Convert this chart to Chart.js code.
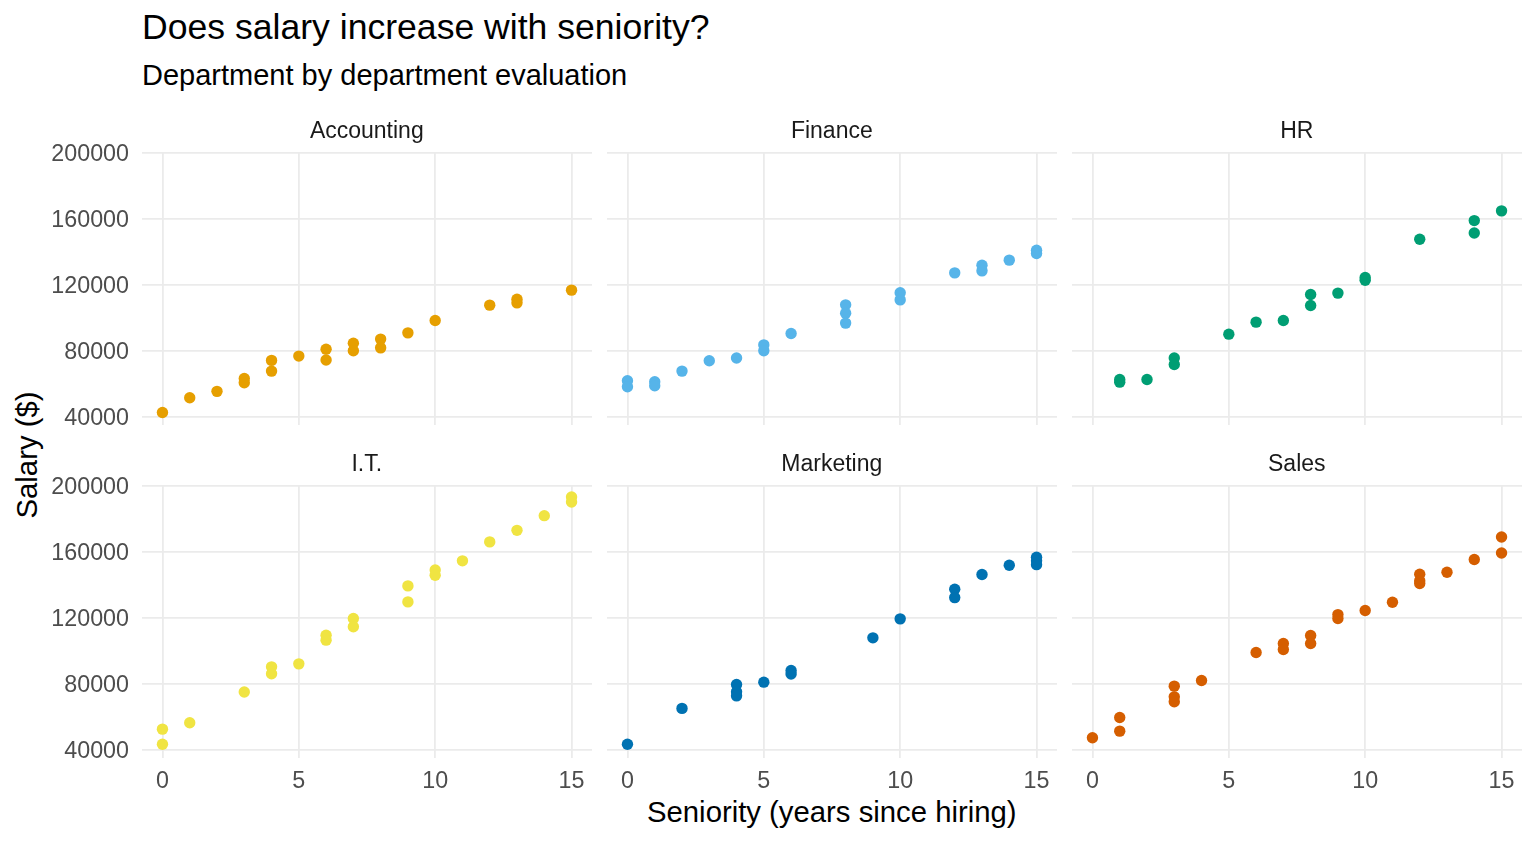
<!DOCTYPE html>
<html>
<head>
<meta charset="utf-8">
<script src="https://cdn.jsdelivr.net/npm/chart.js@4.4.1/dist/chart.umd.min.js"></script>
<style>
html,body{margin:0;padding:0;background:#fff;}
#root{position:relative;width:1536px;height:844px;overflow:hidden;font-family:"Liberation Sans",Arial,sans-serif;}
.txt{position:absolute;white-space:nowrap;line-height:1;}
.box{position:absolute;}
</style>
</head>
<body>
<div id="root">
  <div class="txt" id="title" style="left:142px;top:9.9px;font-size:35.6px;color:#000;">Does salary increase with seniority?</div>
  <div class="txt" id="subtitle" style="left:142px;top:60.5px;font-size:29px;color:#000;">Department by department evaluation</div>
  <div class="txt" id="xtitle" style="left:831.8px;top:796.5px;font-size:29.3px;color:#000;transform:translateX(-50%);">Seniority (years since hiring)</div>
  <div class="txt" id="ytitle" style="left:26.5px;top:455.3px;font-size:29.3px;color:#000;transform:translate(-50%,-50%) rotate(-90deg);">Salary ($)</div>
</div>
<script>
// ---- data ----
const departments = ["Accounting", "Finance", "HR", "I.T.", "Marketing", "Sales"];
const deptColors = ["#E69F00", "#56B4E9", "#009E73", "#F0E442", "#0072B2", "#D55E00"];

const accountingYears  = [0, 1, 2, 3, 3, 4, 4, 5, 6, 6, 7, 7, 8, 8, 9, 10, 12, 13, 13, 15];
const accountingSalary = [42600, 51500, 55400, 63200, 60600, 74200, 67700, 76800, 81000, 74400, 84600, 80000, 87100, 81800, 90900, 98400, 107700, 111300, 109100, 116800];

const financeYears  = [0, 0, 1, 1, 2, 3, 4, 5, 5, 6, 8, 8, 8, 10, 10, 12, 13, 13, 14, 15, 15];
const financeSalary = [61800, 58200, 61200, 58800, 67700, 74000, 75600, 83600, 80000, 90500, 107900, 102800, 96800, 115200, 110900, 127300, 131900, 128500, 135000, 141000, 139000];

const hrYears  = [1, 1, 2, 3, 3, 5, 6, 7, 8, 8, 9, 10, 10, 12, 14, 14, 15];
const hrSalary = [62600, 61000, 62600, 75600, 71700, 90100, 97400, 98400, 114200, 107500, 115000, 124500, 122800, 147700, 159000, 151500, 164900];

const itYears  = [0, 0, 1, 3, 4, 4, 5, 6, 6, 7, 7, 9, 9, 10, 10, 11, 12, 13, 14, 15, 15];
const itSalary = [52500, 43300, 56400, 75000, 90300, 86100, 92100, 109500, 106500, 119600, 114600, 139400, 129700, 149100, 145900, 154600, 166100, 173100, 182000, 193300, 190300];

const marketingYears  = [0, 2, 4, 4, 4, 5, 6, 6, 9, 10, 12, 12, 13, 14, 15, 15, 15];
const marketingSalary = [43300, 65100, 79600, 75200, 72700, 81000, 88100, 85900, 107900, 119400, 137400, 132300, 146300, 151900, 156800, 154600, 152300];

const salesYears  = [0, 1, 1, 3, 3, 3, 4, 6, 7, 7, 8, 8, 9, 9, 10, 11, 12, 12, 12, 13, 14, 15, 15];
const salesSalary = [47300, 59600, 51300, 78600, 72100, 69100, 82000, 99000, 104500, 100800, 109300, 104500, 122000, 119600, 124500, 129500, 146500, 142500, 140800, 147700, 155400, 169100, 159400];

const xTicks = [0, 5, 10, 15];
const yTicks = [40000, 80000, 120000, 160000, 200000];
const xMin = -0.75, xMax = 15.75;
const yMin = 35000, yMax = 200000;

const yearsByDept  = [accountingYears, financeYears, hrYears, itYears, marketingYears, salesYears];
const salaryByDept = [accountingSalary, financeSalary, hrSalary, itSalary, marketingSalary, salesSalary];

// ---- layout ----
const FONT = "'Liberation Sans', Arial, sans-serif";
const panelLeft = [141.8, 606.8, 1071.8];
const panelTop = [153, 485.7];
const panelW = 450, panelH = 272;
const padT = 34, padB = 34, padR = 6, yAxisW = 100, xAxisH = 50;
const stripBaseline = [138.7, 471.4];
const root = document.getElementById('root');

departments.forEach((name, i) => {
  const r = Math.floor(i / 3), c = i % 3;
  const left = panelLeft[c] - (c === 0 ? yAxisW : 0);
  const top = panelTop[r] - padT;
  const w = panelW + (c === 0 ? yAxisW : 0) + padR;
  const h = panelH + padT + (r === 1 ? xAxisH : padB);

  const box = document.createElement('div');
  box.className = 'box';
  box.style.left = left + 'px';
  box.style.top = top + 'px';
  box.style.width = w + 'px';
  box.style.height = h + 'px';
  const cv = document.createElement('canvas');
  box.appendChild(cv);
  root.appendChild(box);

  const strip = document.createElement('div');
  strip.className = 'txt';
  strip.textContent = name;
  strip.style.fontSize = '23px';
  strip.style.color = '#1A1A1A';
  strip.style.left = (panelLeft[c] + panelW / 2) + 'px';
  strip.style.top = (stripBaseline[r] - 0.8465 * 23) + 'px';
  strip.style.transform = 'translateX(-50%)';
  root.appendChild(strip);

  const pts = yearsByDept[i].map((x, k) => ({ x: x, y: salaryByDept[i][k] }));

  new Chart(cv, {
    type: 'scatter',
    data: {
      datasets: [{
        data: pts,
        backgroundColor: deptColors[i],
        borderWidth: 0,
        pointRadius: 5.7,
        pointHoverRadius: 5.7,
        clip: false
      }]
    },
    options: {
      responsive: true,
      maintainAspectRatio: false,
      animation: false,
      events: [],
      layout: { autoPadding: false, padding: { top: padT, right: padR, bottom: r === 1 ? 0 : padB, left: 0 } },
      plugins: { legend: { display: false }, tooltip: { enabled: false }, title: { display: false } },
      scales: {
        x: {
          type: 'linear',
          min: xMin, max: xMax,
          afterBuildTicks: sc => { sc.ticks = xTicks.map(v => ({ value: v })); },
          afterFit: sc => { sc.height = r === 1 ? xAxisH : 0; },
          grid: { color: '#EBEBEB', lineWidth: 1.8, drawTicks: false },
          border: { display: false },
          ticks: {
            display: r === 1, padding: 10, autoSkip: false, maxRotation: 0,
            color: '#4D4D4D', font: { family: FONT, size: 23.3 },
            callback: v => String(v)
          }
        },
        y: {
          type: 'linear',
          min: yMin, max: yMax,
          afterBuildTicks: sc => { sc.ticks = yTicks.map(v => ({ value: v })); },
          afterFit: sc => { sc.width = c === 0 ? yAxisW : 0; },
          grid: { color: '#EBEBEB', lineWidth: 1.8, drawTicks: false },
          border: { display: false },
          ticks: {
            display: c === 0, padding: 13, labelOffset: 2, autoSkip: false,
            color: '#4D4D4D', font: { family: FONT, size: 23.3 },
            callback: v => String(v)
          }
        }
      }
    }
  });
});
</script>
</body>
</html>
